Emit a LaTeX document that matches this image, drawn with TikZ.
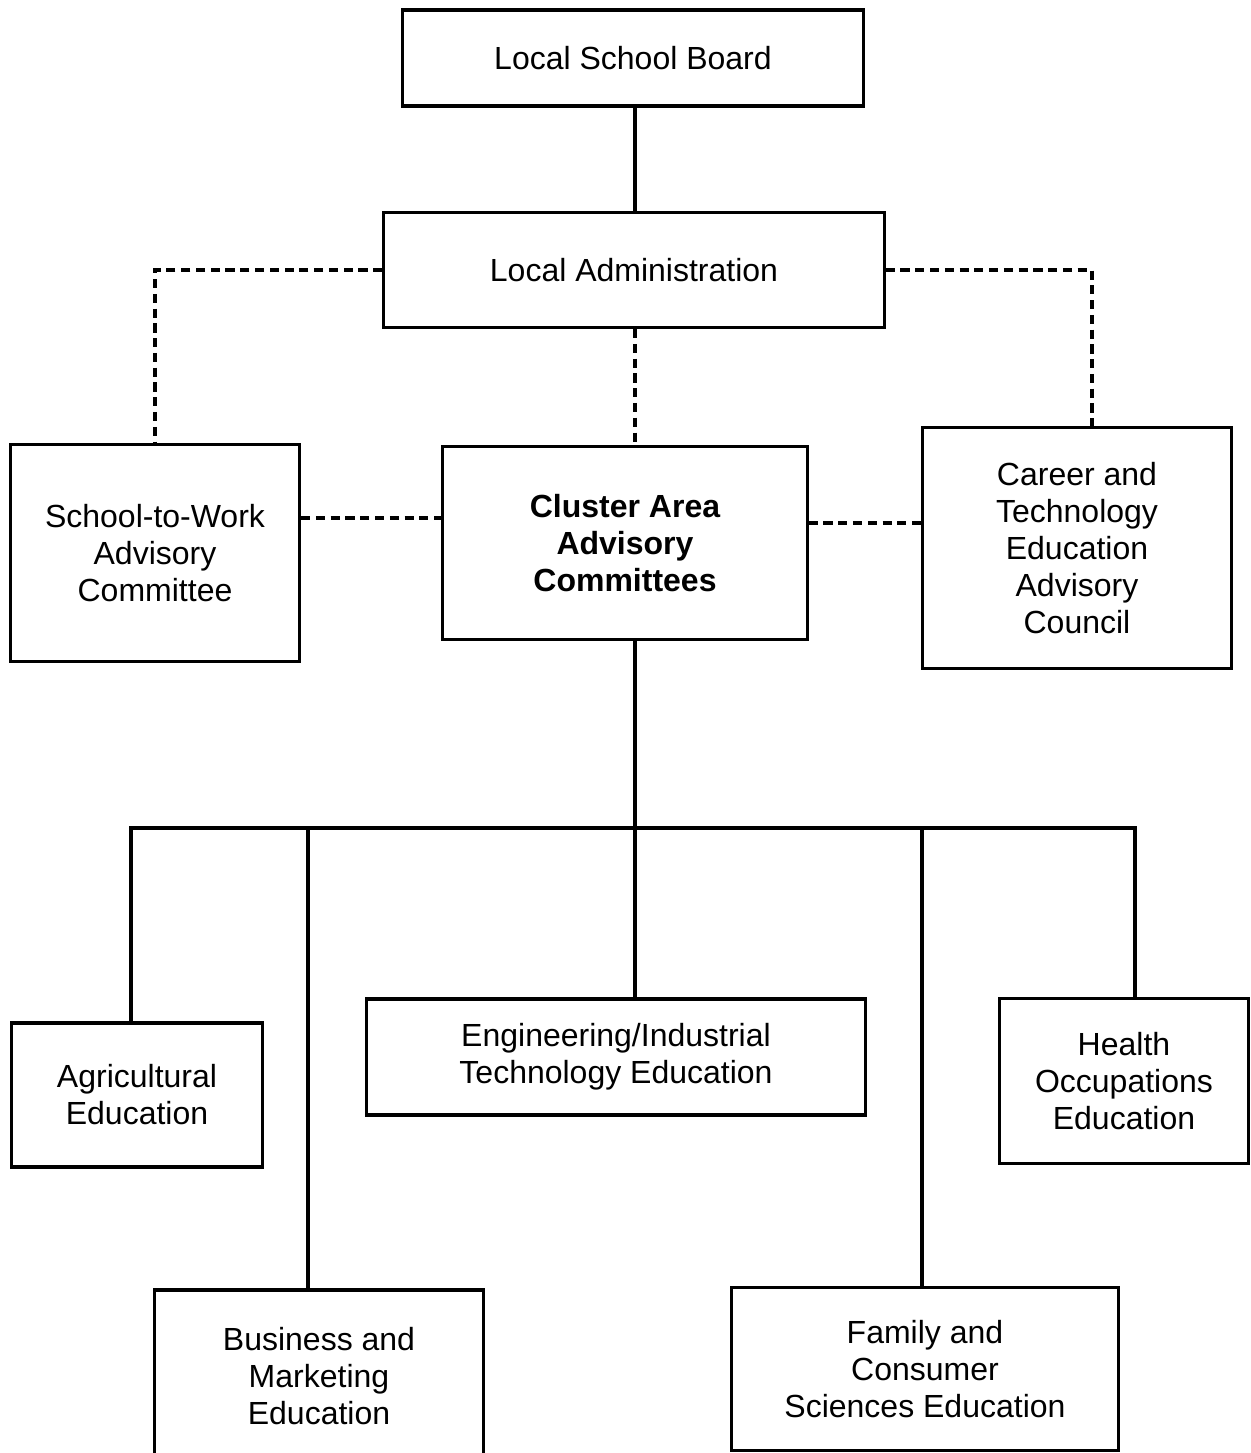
\documentclass[tikz,border=0pt]{standalone}
\usepackage{fontspec}
\setmainfont{Liberation Sans}
\usepackage{tikz}
\usetikzlibrary{arrows.meta,calc,positioning}

\begin{document}
\begin{tikzpicture}[x=0.01cm,y=-0.01cm,line width=0.9pt,
    box/.style={draw,align=center,inner sep=0pt,font=\fontsize{9.1}{10.5}\selectfont},
    link/.style={dash pattern=on 2.6pt off 1.6pt}]
	\useasboundingbox (0,0) rectangle (1250,1453);
	\clip (0,0) rectangle (1250,1453);
	% top of the chart
	\node[box,minimum width=4.6cm,minimum height=0.96cm] (board) at (633,58) {Local School Board};
	\node[box,minimum width=5.0cm,minimum height=1.15cm] (admin) at (634,270) {Local Administration};
	% advisory level
	\node[box,minimum width=2.89cm,minimum height=2.17cm] (stw) at (155,553) {School-to-Work\\Advisory\\Committee};
	\node[box,minimum width=3.64cm,minimum height=1.93cm,font=\fontsize{9.1}{10.5}\selectfont\bfseries] (cluster) at (625,543) {Cluster Area\\Advisory\\Committees};
	\node[box,minimum width=3.08cm,minimum height=2.41cm] (career) at (1077,548) {Career and\\Technology\\Education\\Advisory\\Council};
	% program areas
	\node[box,minimum width=2.51cm,minimum height=1.44cm] (agri) at (137,1095) {Agricultural\\Education};
	\node[box,minimum width=4.99cm,minimum height=1.16cm] (eng) at (616,1057) {Engineering/Industrial\\Technology Education};
	\node[box,minimum width=2.49cm,minimum height=1.65cm] (health) at (1124,1081) {Health\\Occupations\\Education};
	\node[box,minimum width=3.29cm,minimum height=1.72cm] (bus) at (319,1376) {Business and\\Marketing\\Education};
	\node[box,minimum width=3.86cm,minimum height=1.63cm] (fam) at (925,1369) {Family and\\Consumer\\Sciences Education};
	\coordinate (hub) at (635,828);
	% lines of authority
	\draw (board.south -| hub) -- (admin.north -| hub);
	\draw (cluster.south -| hub) -- (hub);
	\draw ([xshift=-0.06cm]agri.north) |- (hub);
	\draw ([xshift=-0.11cm]bus.north) |- (hub);
	\draw (eng.north -| hub) -- (hub);
	\draw ([xshift=-0.03cm]fam.north) |- (hub);
	\draw ([xshift=0.11cm]health.north) |- (hub);
	% advisory links
	\draw[link] (admin.west) -| (stw.north);
	\draw[link] (admin.east) -| ([xshift=0.15cm]career.north);
	\draw[link] (admin.south -| hub) -- (cluster.north -| hub);
	\draw[link] ([yshift=0.35cm]stw.east) -- ([yshift=0.35cm]stw.east -| cluster.west);
	\draw[link] ([yshift=0.2cm]cluster.east) -- ([yshift=0.2cm]cluster.east -| career.west);
\end{tikzpicture}
\end{document}
